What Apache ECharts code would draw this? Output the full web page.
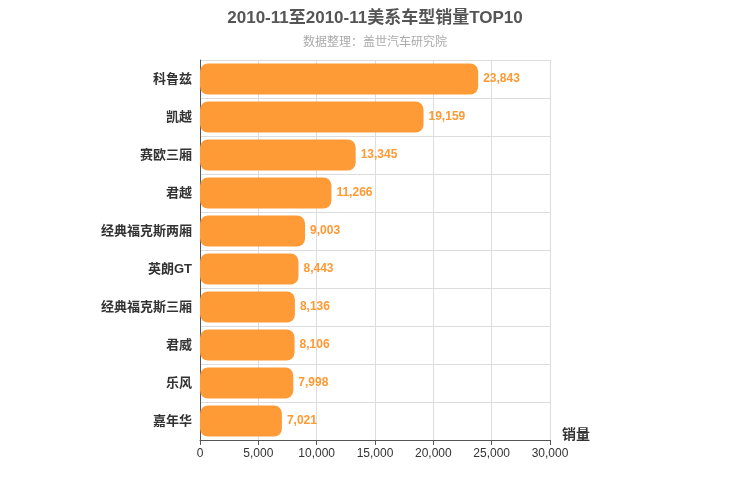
<!DOCTYPE html>
<html><head><meta charset="utf-8">
<script src="https://cdn.jsdelivr.net/npm/echarts@6/dist/echarts.min.js"></script>
<style>html,body{margin:0;padding:0;background:#fff}#c{width:750px;height:500px}</style>
</head><body><div id="c"></div>
<script>
const categories = ['科鲁兹','凯越','赛欧三厢','君越','经典福克斯两厢','英朗GT','经典福克斯三厢','君威','乐风','嘉年华'];
const sales = [23843,19159,13345,11266,9003,8443,8136,8106,7998,7021];
const chart = echarts.init(document.getElementById('c'));
chart.setOption({
  animation:false,
  textStyle:{fontFamily:'Liberation Sans, Noto Sans CJK SC'},
  title:{text:'2010-11至2010-11美系车型销量TOP10',subtext:'数据整理：盖世汽车研究院',left:'center',top:5,
    textStyle:{fontSize:17,fontWeight:'bold',color:'#555',fontFamily:'Liberation Sans, Noto Sans CJK SC'},
    subtextStyle:{fontSize:12,color:'#aaa',fontFamily:'Liberation Sans, Noto Sans CJK SC'},itemGap:10},
  grid:{left:200,right:200,top:60,bottom:60,containLabel:false},
  xAxis:{type:'value',min:0,max:30000,interval:5000,name:'销量',nameLocation:'end',nameGap:12,
    nameTextStyle:{fontSize:14,fontWeight:'bold',color:'#333',verticalAlign:'top',padding:[-12,0,0,0]},
    axisLine:{show:true,lineStyle:{color:'#555'}},axisTick:{show:true},
    axisLabel:{color:'#333',fontSize:12},splitLine:{lineStyle:{color:'#ddd'}}},
  yAxis:{type:'category',inverse:true,data:categories,
    axisLine:{lineStyle:{color:'#555'}},axisTick:{show:false},
    axisLabel:{fontSize:13,fontWeight:'bold',color:'#333'},
    splitLine:{show:true,lineStyle:{color:'#ddd'}}},
  series:[{type:'bar',data:sales,barWidth:'82%',
    itemStyle:{color:'#ff9b37',borderRadius:8},
    label:{show:true,position:'right',color:'#ff9933',fontSize:12,fontWeight:'bold',formatter:p=>p.value.toLocaleString('en-US')}}]
});
</script></body></html>
